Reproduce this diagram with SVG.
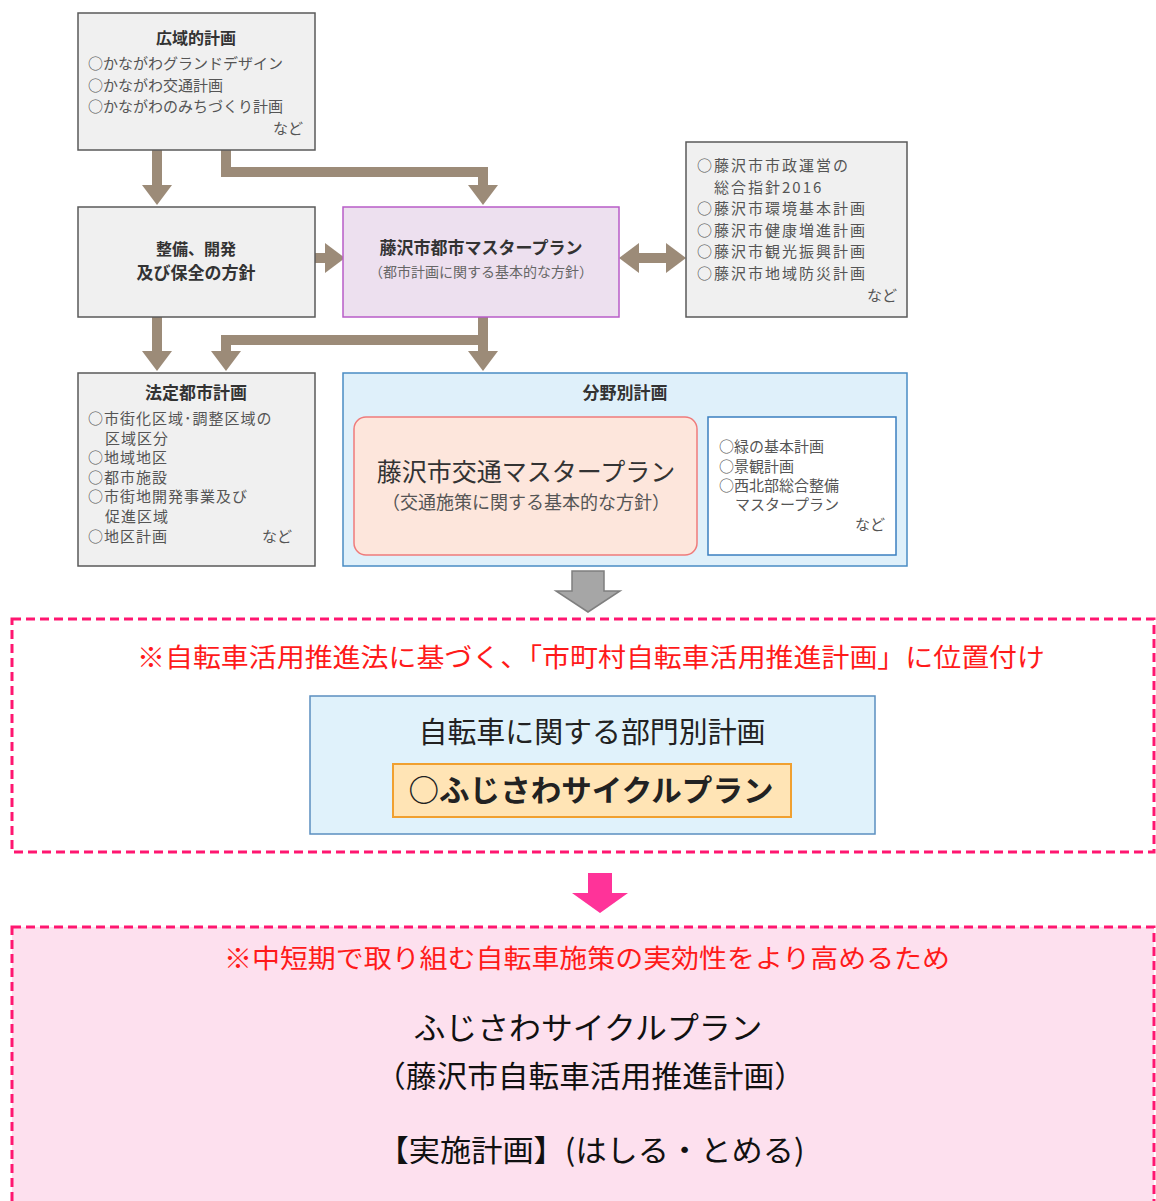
<svg xmlns="http://www.w3.org/2000/svg" width="1156" height="1201" viewBox="0 0 1156 1201">
<style>
text{font-family:"Noto Sans CJK JP","Noto Sans",sans-serif;}
.gbox{fill:#f0f0f0;stroke:#5a5a5a;stroke-width:1.5;}
.ttl{font-size:16px;font-weight:bold;fill:#333;text-anchor:middle;}
.itm{font-size:15px;fill:#555;}
.itmr{font-size:15px;fill:#555;text-anchor:end;}
.conn{fill:none;stroke:#9c8b78;stroke-width:10;}
.red{fill:#ff1a1a;font-size:26px;text-anchor:middle;}
.blk{fill:#111;text-anchor:middle;}
</style>
<defs>
<marker id="ah" markerUnits="userSpaceOnUse" markerWidth="22" markerHeight="30" refX="0" refY="15" orient="auto">
<path d="M0,0 L20,15 L0,30 z" fill="#9c8b78"/>
</marker>
<marker id="ahs" markerUnits="userSpaceOnUse" markerWidth="22" markerHeight="30" refX="0" refY="15" orient="auto-start-reverse">
<path d="M0,0 L20,15 L0,30 z" fill="#9c8b78"/>
</marker>
</defs>

<g id="connectors">
<path class="conn" d="M157,150 V185" marker-end="url(#ah)"/>
<path class="conn" d="M226,150 V172 H483 V185" marker-end="url(#ah)"/>
<path class="conn" d="M315,258 H325" marker-end="url(#ah)"/>
<path class="conn" d="M639,258 H666" marker-start="url(#ahs)" marker-end="url(#ah)"/>
<path class="conn" d="M157,317 V351" marker-end="url(#ah)"/>
<path class="conn" d="M483,317 V351"  marker-end="url(#ah)"/>
<path class="conn" d="M483,340 H226 V351" marker-end="url(#ah)"/>
<path d="M572,571 H604 V591 H620 L588,612 L556,591 H572 Z" fill="#a6a6a6" stroke="#7f7f7f" stroke-width="1.5"/>
<path d="M588,873 H612 V893 H628 L600,913 L572,893 H588 Z" fill="#ff3399"/>
</g>

<g id="kouiki">
<rect class="gbox" x="78" y="13" width="237" height="137"/>
<text class="ttl" x="196" y="44">広域的計画</text>
<text class="itm" x="88" y="69">○かながわグランドデザイン</text>
<text class="itm" x="88" y="91">○かながわ交通計画</text>
<text class="itm" x="88" y="112">○かながわのみちづくり計画</text>
<text class="itmr" x="303" y="134">など</text>
</g>

<g id="seibi">
<rect class="gbox" x="78" y="207" width="237" height="110"/>
<text class="ttl" x="196" y="255" style="font-size:16px">整備、開発</text>
<text class="ttl" x="196" y="279" style="font-size:17px">及び保全の方針</text>
</g>

<g id="toshimp">
<rect x="343" y="207" width="276" height="110" fill="#ede0ef" stroke="#b85cc8" stroke-width="1.5"/>
<text class="ttl" x="481" y="254" style="font-size:17px">藤沢市都市マスタープラン</text>
<text x="481" y="277" style="font-size:14px;fill:#666;text-anchor:middle">（都市計画に関する基本的な方針）</text>
</g>

<g id="kanren">
<rect class="gbox" x="686" y="142" width="221" height="175"/>
<g class="itm" style="letter-spacing:2px">
<text x="697" y="171">○藤沢市市政運営の</text>
<text x="714" y="193">総合指針2016</text>
<text x="697" y="214">○藤沢市環境基本計画</text>
<text x="697" y="236">○藤沢市健康増進計画</text>
<text x="697" y="257">○藤沢市観光振興計画</text>
<text x="697" y="279">○藤沢市地域防災計画</text>
</g>
<text class="itmr" x="897" y="301">など</text>
</g>

<g id="houtei">
<rect class="gbox" x="78" y="373" width="237" height="193"/>
<text class="ttl" x="196" y="399" style="font-size:17px">法定都市計画</text>
<g class="itm" style="letter-spacing:1px">
<text x="88" y="424">○市街化区域･調整区域の</text>
<text x="105" y="444">区域区分</text>
<text x="88" y="463">○地域地区</text>
<text x="88" y="483">○都市施設</text>
<text x="88" y="502">○市街地開発事業及び</text>
<text x="105" y="522">促進区域</text>
<text x="88" y="542">○地区計画</text>
</g>
<text class="itmr" x="292" y="542">など</text>
</g>

<g id="bunya">
<rect x="343" y="373" width="564" height="193" fill="#dff0fa" stroke="#4a8cc4" stroke-width="1.5"/>
<text class="ttl" x="625" y="399" style="font-size:17px">分野別計画</text>
</g>

<g id="koutsuump">
<rect x="354" y="417" width="343" height="138" rx="12" fill="#fde6dc" stroke="#ef7b7b" stroke-width="1.5"/>
<text x="526" y="481" style="font-size:25px;fill:#333;text-anchor:middle">藤沢市交通マスタープラン</text>
<text x="526" y="509" style="font-size:18px;fill:#555;text-anchor:middle">（交通施策に関する基本的な方針）</text>
</g>

<g id="bunyaother">
<rect x="708" y="417" width="188" height="138" fill="#ffffff" stroke="#3b7fc0" stroke-width="1.5"/>
<text class="itm" x="719" y="452">○緑の基本計画</text>
<text class="itm" x="719" y="472">○景観計画</text>
<text class="itm" x="719" y="491">○西北部総合整備</text>
<text class="itm" x="735" y="510">マスタープラン</text>
<text class="itmr" x="885" y="530">など</text>
</g>

<g id="ichizuke">
<rect x="12" y="619" width="1142" height="233" fill="#ffffff" stroke="#ff1670" stroke-width="3" stroke-dasharray="9,5"/>
<text class="red" x="591" y="667" textLength="908" lengthAdjust="spacingAndGlyphs">※自転車活用推進法に基づく、「市町村自転車活用推進計画」に位置付け</text>
</g>

<g id="bumon">
<rect x="310" y="696" width="565" height="138" fill="#e0f2fb" stroke="#5b8fc0" stroke-width="1.5"/>
<text class="blk" x="592" y="743" style="font-size:29px;fill:#222" textLength="347" lengthAdjust="spacingAndGlyphs">自転車に関する部門別計画</text>
</g>

<g id="cycleplan">
<rect x="393" y="764" width="398" height="53" fill="#ffe4b5" stroke="#f0a030" stroke-width="2"/>
<text class="blk" x="591" y="801" style="font-size:30px;font-weight:bold;fill:#222" textLength="365" lengthAdjust="spacingAndGlyphs">○ふじさわサイクルプラン</text>
</g>

<g id="jisshi">
<rect x="12" y="927" width="1142" height="290" fill="#fde0ee" stroke="#ff1670" stroke-width="3" stroke-dasharray="9,5"/>
<text class="red" x="587" y="968" textLength="726" lengthAdjust="spacingAndGlyphs">※中短期で取り組む自転車施策の実効性をより高めるため</text>
<text class="blk" x="588" y="1039" style="font-size:31px" textLength="349" lengthAdjust="spacingAndGlyphs">ふじさわサイクルプラン</text>
<text class="blk" x="590" y="1087" style="font-size:30px" textLength="430" lengthAdjust="spacingAndGlyphs">（藤沢市自転車活用推進計画）</text>
<text class="blk" x="591" y="1161" style="font-size:30px" textLength="427" lengthAdjust="spacingAndGlyphs">【実施計画】(はしる・とめる)</text>
</g>
</svg>
